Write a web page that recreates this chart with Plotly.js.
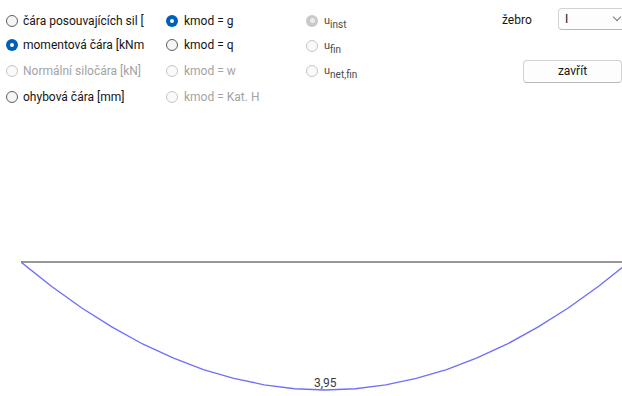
<!DOCTYPE html>
<html>
<head>
<meta charset="utf-8">
<script src="https://cdn.plot.ly/plotly-3.0.1.min.js"></script>
<style>
  html, body { margin:0; padding:0; background:#fff; }
  #wrap { position:relative; width:622px; height:396px; overflow:hidden; }
  #chart { position:absolute; left:0; top:0; width:622px; height:396px; }
  #ui { position:absolute; left:0; top:0; width:622px; height:396px; pointer-events:none;
        font-family: "Segoe UI", Roboto, "Noto Sans", sans-serif; font-size:12px; color:#151515; }
  .r { position:absolute; width:12px; height:12px; border-radius:50%; box-sizing:border-box; }
  .r.off { border:1px solid #5e5e5e; background:#f6f6f6; }
  .r.on { background:#005fb8; }
  .r.on::after { content:""; position:absolute; left:4px; top:4px; width:4px; height:4px; border-radius:50%; background:#fff; }
  .r.dis { border:1px solid #c6c6c6; background:#fafafa; }
  .r.dison { background:#c9c9c9; }
  .r.dison::after { content:""; position:absolute; left:3.5px; top:3.5px; width:5px; height:5px; border-radius:50%; background:#ececec; }
  .lb { position:absolute; line-height:16px; white-space:nowrap; }
  .lb.dis { color:#a3a3a3; }
  .lb.sub { color:#4a4a4a; font-size:11px; }
  .lb.sub sub { font-size:10px; vertical-align:-4px; }
  .box { position:absolute; box-sizing:border-box; border:1px solid #d3d3d3; border-bottom-color:#b8b8b8; border-radius:4px; background:#fdfdfd; }
</style>
</head>
<body>
<div id="wrap">
  <div id="chart"></div>
  <div id="ui"></div>
</div>
<script>
// ---- data (moment line, kmod = g) ----
const spanPos = [0, 0.05, 0.10, 0.15, 0.20, 0.25, 0.30, 0.35, 0.40, 0.45, 0.50,
                 0.55, 0.60, 0.65, 0.70, 0.75, 0.80, 0.85, 0.90, 0.95, 1.00];
const moment  = [0, 0.75, 1.42, 2.01, 2.53, 2.96, 3.32, 3.59, 3.79, 3.91, 3.95,
                 3.91, 3.79, 3.59, 3.32, 2.96, 2.53, 2.01, 1.42, 0.75, 0];
const beamX = [0, 1];
const beamY = [0, 0];
const maxLabel = "3,95";
const maxPos = 0.5;
const maxVal = 3.95;

// ---- form labels (as visible in the window) ----
const col1 = ["čára posouvajících sil [", "momentová čára [kNm", "Normální siločára [kN]", "ohybová čára [mm]"];
const col1State = ["off", "on", "dis", "off"];
const col2 = ["kmod = g", "kmod = q", "kmod = w", "kmod = Kat. H"];
const col2State = ["on", "off", "dis", "dis"];
const col3Sub = ["inst", "fin", "net,fin"];
const col3State = ["dison", "dis", "dis"];
const ribLabel = "žebro";
const ribValue = "I";
const closeLabel = "zavřít";

const traces = [
  { x: beamX, y: beamY, type: 'scatter', mode: 'lines',
    line: { color: '#767676', width: 1.6 }, hoverinfo: 'skip', showlegend: false },
  { x: spanPos, y: moment, type: 'scatter', mode: 'lines',
    line: { color: 'rgb(112,112,250)', width: 1.4 }, hoverinfo: 'skip', showlegend: false }
];
const layout = {
  width: 622, height: 396,
  margin: { l: 21, r: 0, t: 0, b: 0, pad: 0 },
  paper_bgcolor: '#ffffff', plot_bgcolor: '#ffffff',
  showlegend: false,
  xaxis: { range: [0, 601/608], visible: false, fixedrange: true },
  yaxis: { range: [4.135, -8.085], visible: false, fixedrange: true },
  annotations: [{
    x: maxPos, y: maxVal, xref: 'x', yref: 'y', text: maxLabel, showarrow: false,
    xanchor: 'center', yanchor: 'bottom', yshift: -2,
    font: { family: 'Segoe UI, Roboto, Noto Sans, sans-serif', size: 12, color: '#3a3a3a' }
  }]
};
Plotly.newPlot('chart', traces, layout, { staticPlot: true, displayModeBar: false });

// ---- build form overlay ----
const ui = document.getElementById('ui');
function radio(cx, cy, st) {
  const d = document.createElement('div');
  d.className = 'r ' + st;
  d.style.left = (cx - 6) + 'px'; d.style.top = (cy - 6) + 'px';
  ui.appendChild(d);
}
function label(x, cy, html, cls) {
  const d = document.createElement('div');
  d.className = 'lb ' + (cls || '');
  d.style.left = x + 'px'; d.style.top = (cy - 8) + 'px';
  d.innerHTML = html;
  ui.appendChild(d);
}
const rows1 = [20.5, 45, 70.5, 96.5];
col1.forEach((t, i) => {
  radio(12, rows1[i], col1State[i]);
  label(23, rows1[i], t, col1State[i] === 'dis' ? 'dis' : '');
});
const rows2 = [20.5, 45, 70.5, 96.5];
col2.forEach((t, i) => {
  radio(172, rows2[i], col2State[i]);
  label(184, rows2[i], t, col2State[i] === 'dis' ? 'dis' : '');
});
const rows3 = [20.5, 45.5, 70.5];
col3Sub.forEach((t, i) => {
  radio(312, rows3[i], col3State[i]);
  label(324, rows3[i], 'u<sub>' + t + '</sub>', 'sub');
});
label(502, 20, ribLabel, '');
// select box
const sel = document.createElement('div');
sel.className = 'box';
sel.style.left = '558px'; sel.style.top = '8px'; sel.style.width = '70px'; sel.style.height = '22px';
sel.innerHTML = '<span style="position:absolute;left:6px;top:2px;line-height:16px;">' + ribValue + '</span>' +
  '<span style="position:absolute;left:55px;top:5px;width:5px;height:5px;border-right:1px solid #777;border-bottom:1px solid #777;transform:rotate(45deg);"></span>';
ui.appendChild(sel);
// button
const btn = document.createElement('div');
btn.className = 'box';
btn.style.left = '523px'; btn.style.top = '60px'; btn.style.width = '99px'; btn.style.height = '23px';
btn.innerHTML = '<div style="text-align:center;line-height:21px;">' + closeLabel + '</div>';
ui.appendChild(btn);
</script>
</body>
</html>
